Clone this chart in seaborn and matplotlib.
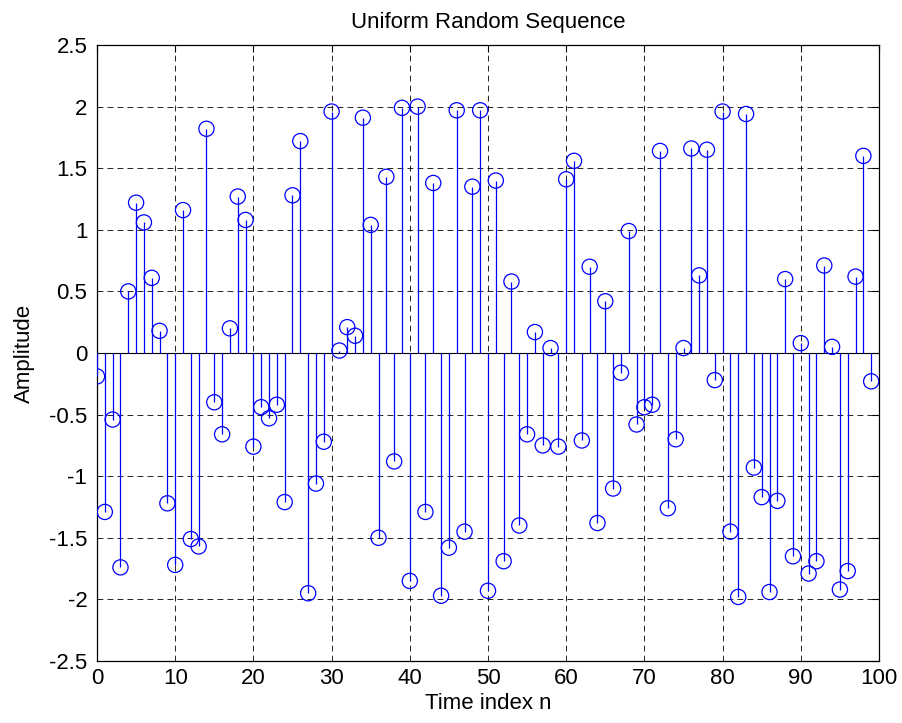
import numpy as np
import pandas as pd
import matplotlib
matplotlib.use("Agg")
import matplotlib.pyplot as plt
import seaborn as sns

# Sample index n and the amplitude of each uniform random sample
n_index = list(range(100))
amplitude = [
    -0.19, -1.29, -0.54, -1.74, 0.50, 1.22, 1.06, 0.61, 0.18, -1.22,
    -1.72, 1.16, -1.51, -1.57, 1.82, -0.40, -0.66, 0.20, 1.27, 1.08,
    -0.76, -0.44, -0.53, -0.42, -1.21, 1.28, 1.72, -1.95, -1.06, -0.72,
    1.96, 0.02, 0.21, 0.14, 1.91, 1.04, -1.50, 1.43, -0.88, 1.99,
    -1.85, 2.00, -1.29, 1.38, -1.97, -1.58, 1.97, -1.45, 1.35, 1.97,
    -1.93, 1.40, -1.69, 0.58, -1.40, -0.66, 0.17, -0.75, 0.04, -0.76,
    1.41, 1.56, -0.71, 0.70, -1.38, 0.42, -1.10, -0.16, 0.99, -0.58,
    -0.44, -0.42, 1.64, -1.26, -0.70, 0.04, 1.66, 0.63, 1.65, -0.22,
    1.96, -1.45, -1.98, 1.94, -0.93, -1.17, -1.94, -1.20, 0.60, -1.65,
    0.08, -1.79, -1.69, 0.71, 0.05, -1.92, -1.77, 0.62, 1.60, -0.23,
]
x_ticks = [0, 10, 20, 30, 40, 50, 60, 70, 80, 90, 100]
y_ticks = [-2.5, -2, -1.5, -1, -0.5, 0, 0.5, 1, 1.5, 2, 2.5]

df = pd.DataFrame({"n": n_index, "amp": amplitude})

sns.set_style("white")
plt.rcParams["font.family"] = ["Liberation Sans", "DejaVu Sans"]
plt.rcParams["text.color"] = "black"
plt.rcParams["axes.labelcolor"] = "black"

fig = plt.figure(figsize=(9.03, 7.23), dpi=100)
ax = fig.add_axes([97 / 903, 62 / 723, 782 / 903, 616 / 723])

stem_color = "#0000ff"

# Grid first so the stems sit above it
ax.set_axisbelow(True)
ax.grid(True, color="black", linestyle=(0, (7, 5)), linewidth=0.6)

# Stems from the baseline to each sample
ax.vlines(df["n"], 0, df["amp"], color=stem_color, linewidth=0.9, zorder=3)
# Baseline
ax.axhline(0, color="black", linewidth=0.8, zorder=2.5)
# Open circle markers
sns.scatterplot(data=df, x="n", y="amp", ax=ax, marker="o", s=120,
                facecolor="none", edgecolor=stem_color, linewidth=0.9,
                zorder=4, legend=False)

ax.set_xlim(0, 100)
ax.set_ylim(-2.5, 2.5)
ax.set_xticks(x_ticks)
ax.set_xticklabels([f"{t:g}" for t in x_ticks])
ax.set_yticks(y_ticks)
ax.set_yticklabels([f"{t:g}" for t in y_ticks])

ax.tick_params(axis="both", direction="in", length=5, width=0.8,
               labelsize=16, top=True, right=True, colors="black")
ax.tick_params(axis="x", pad=5)
ax.tick_params(axis="y", pad=7)
for sp in ax.spines.values():
    sp.set_visible(True)
    sp.set_color("black")
    sp.set_linewidth(0.9)

ax.set_title("Uniform Random Sequence", fontsize=16, pad=12, color="black")
ax.set_xlabel("Time index n", fontsize=16, labelpad=3, color="black")
ax.set_ylabel("Amplitude", fontsize=16, labelpad=10, color="black")

fig.savefig("out.png", dpi=100, facecolor="white")
